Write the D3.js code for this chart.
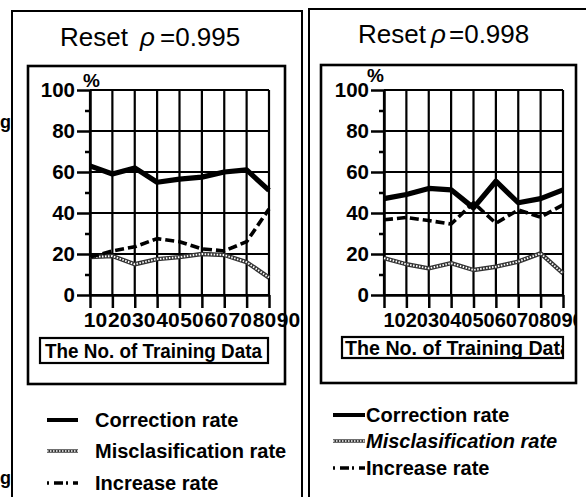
<!DOCTYPE html>
<html><head><meta charset="utf-8">
<script src="https://cdn.jsdelivr.net/npm/d3@7"></script>
<style>
html,body{margin:0;padding:0;background:#fff;}
svg{display:block;}
text{font-family:"Liberation Sans",Arial,Helvetica,sans-serif;fill:#000;}
</style></head><body>
<svg id="chart" width="586" height="497"></svg>
<script>
// ---- data ----
const xValues = [10, 20, 30, 40, 50, 60, 70, 80, 90];
const xTickLabels = ["10", "20", "30", "40", "50", "60", "70", "80", "90"];
const yMajorTicks = [0, 20, 40, 60, 80, 100];
const yMinorTicks = [10, 30, 50, 70, 90];
const seriesNames = ["Correction rate", "Misclasification rate", "Increase rate"];
const rhoValues = ["0.995", "0.998"];
const axisTitle = "The No. of Training Data";

const leftCorrection  = [63, 59, 62, 55, 56.5, 57.5, 60, 61, 51];
const leftMisclass    = [18.5, 19, 15, 17.5, 18.5, 20, 19.5, 16, 8.5];
const leftIncrease    = [18.5, 21.5, 23.5, 27.5, 26, 22.5, 21.5, 26, 42];
const rightCorrection = [47, 49, 52, 51.3, 42.5, 55.5, 45, 47, 51.3];
const rightMisclass   = [18, 15, 13, 15.5, 12.2, 13.8, 16.3, 20.3, 10.5];
const rightIncrease   = [36.7, 37.8, 36.3, 34.6, 45, 35, 41.5, 38, 44];

// ---- layout ----
const svg = d3.select("#chart");
const defs = svg.append("defs");
const y = d3.scaleLinear([0, 100], [295, 90]);

const panels = [
  { rho: rhoValues[0], series: [leftCorrection, leftMisclass, leftIncrease],
    frame: "M12,505V11H302V505", titleY: 46, titleX: [60, 140, 160],
    box: [28, 66, 285, 384], xr: [90, 269], labR: [95, 288], labY: 312, labFont: 21,
    pct: [83, 87], tbox: [40, 338, 268, 363], tY: 358, tX: 45, tLen: 217,
    leg: { x0: 47, x1: 78, tx: 95, ys: [420, 451, 483], italicMis: false, clipLabels: false } },
  { rho: rhoValues[1], series: [rightCorrection, rightMisclass, rightIncrease],
    frame: "M309,505V9H600", titleY: 43, titleX: [358, 431, 449],
    box: [321, 65, 576, 383], xr: [384, 563], labR: [394, 572], labY: 313, labFont: 20,
    pct: [367, 82], tbox: [342, 337, 563, 358], tY: 355, tX: 345, tLen: 226,
    leg: { x0: 333, x1: 365, tx: 366, ys: [415, 441, 468], italicMis: true, clipLabels: true } }
];

// stray glyphs from the neighbouring figure
svg.append("text").attr("x", 0).attr("y", 128).attr("font-size", 18).attr("font-weight", "bold").text("g");
svg.append("text").attr("x", 0).attr("y", 484).attr("font-size", 18).attr("font-weight", "bold").text("g");

function drawSeries(g, pathD, idx, legend) {
  if (idx === 0) {
    g.append("path").attr("d", pathD).attr("fill", "none").attr("stroke", "#000")
      .attr("stroke-width", legend ? 4 : 5.2).attr("stroke-linejoin", "round");
  } else if (idx === 1) {
    g.append("path").attr("d", pathD).attr("fill", "none").attr("stroke", "#333")
      .attr("stroke-width", legend ? 3.4 : 4.4).attr("stroke-linejoin", "round");
    g.append("path").attr("d", pathD).attr("fill", "none").attr("stroke", "#fff")
      .attr("stroke-width", legend ? 1.4 : 1.9).attr("stroke-dasharray", "1.5,1.5");
  } else {
    g.append("path").attr("d", pathD).attr("fill", "none").attr("stroke", "#000")
      .attr("stroke-width", legend ? 3.5 : 3.6).attr("stroke-dasharray", legend ? "2,5,9,3" : "9,4")
      .attr("stroke-linejoin", "round");
  }
}

panels.forEach((p, pi) => {
  const g = svg.append("g");
  const x = d3.scaleLinear([10, 90], p.xr);
  const xl = d3.scaleLinear([10, 90], p.labR);

  // outer frame
  g.append("path").attr("d", p.frame).attr("fill", "none").attr("stroke", "#000").attr("stroke-width", 2);

  // title
  const t = g.append("text").attr("y", p.titleY).attr("font-size", 26);
  t.append("tspan").attr("x", p.titleX[0]).text("Reset");
  t.append("tspan").attr("x", p.titleX[1]).attr("font-style", "italic").text("\u03C1");
  t.append("tspan").attr("x", p.titleX[2]).text("=" + p.rho);

  // inner box
  g.append("rect").attr("x", p.box[0]).attr("y", p.box[1])
    .attr("width", p.box[2] - p.box[0]).attr("height", p.box[3] - p.box[1])
    .attr("fill", "none").attr("stroke", "#000").attr("stroke-width", 2.6);

  // percent sign
  g.append("text").attr("x", p.pct[0]).attr("y", p.pct[1]).attr("font-size", 19)
    .attr("font-weight", "bold").text("%");

  // grid
  const grid = g.append("g").attr("stroke", "#000").attr("stroke-width", 2.2);
  grid.selectAll(".v").data(xValues).join("line")
    .attr("x1", d => x(d)).attr("x2", d => x(d)).attr("y1", y(0)).attr("y2", y(100));
  grid.selectAll(".h").data(yMajorTicks).join("line")
    .attr("x1", x(10)).attr("x2", x(90)).attr("y1", d => y(d)).attr("y2", d => y(d));

  // y axis
  const ya = g.append("g").attr("transform", `translate(${x(10)},0)`)
    .call(d3.axisLeft(y).tickValues(yMajorTicks).tickSize(13).tickSizeOuter(0).tickPadding(2));
  ya.selectAll("path,line").attr("stroke", "#000").attr("stroke-width", 2.5);
  ya.selectAll("text").attr("font-size", 20.5).attr("font-weight", "bold")
    .attr("font-family", "'Liberation Sans',Arial,sans-serif").attr("fill", "#000");
  const ym = g.append("g").attr("transform", `translate(${x(10)},0)`)
    .call(d3.axisLeft(y).tickValues(yMinorTicks).tickSize(5).tickSizeOuter(0).tickFormat(""));
  ym.selectAll("path").remove();
  ym.selectAll("line").attr("stroke", "#000").attr("stroke-width", 2.5);

  // x axis
  const xa = g.append("g").attr("transform", `translate(0,${y(0)})`)
    .call(d3.axisBottom(x).tickValues(xValues).tickSize(13).tickSizeOuter(0).tickFormat(""));
  xa.selectAll("path,line").attr("stroke", "#000").attr("stroke-width", 2.5);

  // x labels
  let labHost = g;
  if (p.leg.clipLabels) {
    const cid = "clipLab" + pi;
    defs.append("clipPath").attr("id", cid).append("rect")
      .attr("x", p.box[0]).attr("y", p.labY - 5).attr("width", p.box[2] + 1 - p.box[0]).attr("height", 30);
    labHost = g.append("g").attr("clip-path", `url(#${cid})`);
  }
  const xla = labHost.append("g").attr("transform", `translate(0,${p.labY})`)
    .call(d3.axisBottom(xl).tickValues(xValues).tickSize(0).tickPadding(0)
      .tickFormat((d, i) => xTickLabels[i]));
  xla.select(".domain").remove();
  xla.selectAll("text").attr("font-size", p.labFont).attr("font-weight", "bold")
    .attr("font-family", "'Liberation Sans',Arial,sans-serif").attr("fill", "#000");

  // axis title box
  const tb = p.tbox;
  const tcid = "clipT" + pi;
  defs.append("clipPath").attr("id", tcid).append("rect")
    .attr("x", tb[0]).attr("y", tb[1]).attr("width", tb[2] - tb[0]).attr("height", tb[3] - tb[1]);
  g.append("text").attr("clip-path", `url(#${tcid})`).attr("x", p.tX).attr("y", p.tY)
    .attr("font-size", 20.5).attr("font-weight", "bold")
    .attr("textLength", p.tLen).attr("lengthAdjust", "spacingAndGlyphs").text(axisTitle);
  g.append("rect").attr("x", tb[0]).attr("y", tb[1]).attr("width", tb[2] - tb[0]).attr("height", tb[3] - tb[1])
    .attr("fill", "none").attr("stroke", "#000").attr("stroke-width", 2.2);

  // series
  const line = d3.line().x((d, i) => x(xValues[i])).y(d => y(d));
  [1, 2, 0].forEach(si => drawSeries(g, line(p.series[si]), si, false));

  // legend
  const L = p.leg;
  seriesNames.forEach((name, si) => {
    const yy = L.ys[si];
    drawSeries(g, d3.line()([[L.x0, yy], [L.x1, yy]]), si, true);
    g.append("text").attr("x", L.tx).attr("y", yy + 7).attr("font-size", 20).attr("font-weight", "bold")
      .attr("font-style", (si === 1 && L.italicMis) ? "italic" : "normal").text(name);
  });
});
</script>
</body></html>
